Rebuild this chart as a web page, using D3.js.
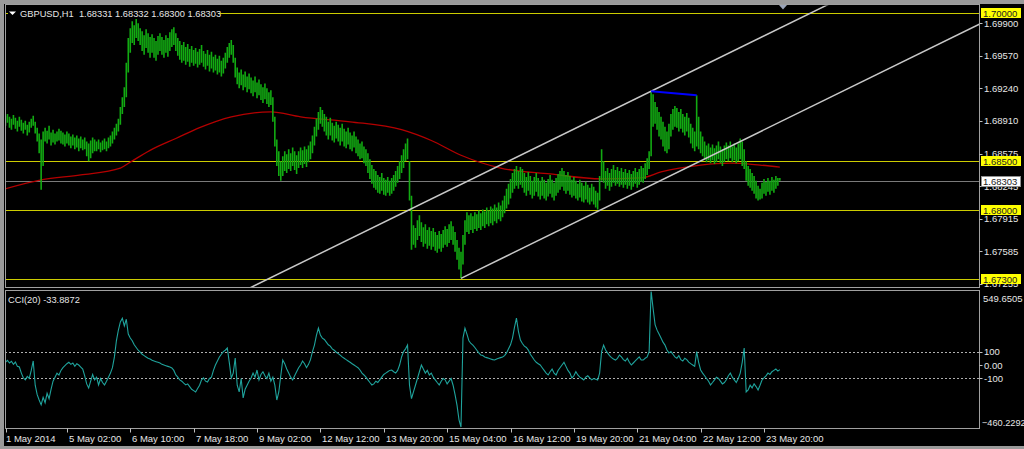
<!DOCTYPE html>
<html><head><meta charset="utf-8">
<script src="https://cdn.jsdelivr.net/npm/d3@7"></script>
<style>html,body{margin:0;padding:0;background:#000;overflow:hidden}</style>
</head><body>
<svg id="chart" width="1024" height="449"></svg>
<script>
const symbolTitle = "GBPUSD,H1  1.68331 1.68332 1.68300 1.68303";
const cciTitle = "CCI(20) -33.8872";
const timeLabels = ["1 May 2014","5 May 02:00","6 May 10:00","7 May 18:00","9 May 02:00","12 May 12:00","13 May 20:00","15 May 04:00","16 May 12:00","19 May 20:00","21 May 04:00","22 May 12:00","23 May 20:00"];
const timeLabelBars = [0,31,63,95,127,159,191,223,255,287,319,351,383];
const priceTicks = [1.69900,1.69570,1.69240,1.68910,1.68575,1.68245,1.67915,1.67585,1.67255];
const levelLines = [1.70000,1.68500,1.68000,1.67300];
const bidPrice = 1.68303;
const priceMin = 1.67222, priceMax = 1.70086;
const cciLevels = [100,-100];
const cciTicks = [100,0,-100];
const cciTickLabels = ["100","0.00","-100"];
const cciMax = 549.6505, cciMin = -460.2292;

const high = [
1.6896,1.6898,1.6895,1.6893,1.6897,1.6894,1.6891,1.6895,1.6892,1.6889,
1.6891,1.6887,1.6890,1.6893,1.6896,1.6890,1.6884,1.6878,1.6872,1.6880,
1.6884,1.6881,1.6886,1.6879,1.6882,1.6878,1.6880,1.6883,1.6881,1.6879,
1.6877,1.6880,1.6878,1.6875,1.6877,1.6874,1.6876,1.6873,1.6875,1.6872,
1.6874,1.6870,1.6868,1.6871,1.6874,1.6872,1.6870,1.6872,1.6869,1.6871,
1.6873,1.6870,1.6874,1.6876,1.6880,1.6884,1.6888,1.6893,1.6905,1.6915,
1.6925,1.6950,1.6975,1.6985,1.6992,1.6988,1.6995,1.6990,1.6985,1.6982,
1.6978,1.6984,1.6980,1.6976,1.6979,1.6975,1.6972,1.6977,1.6980,1.6976,
1.6973,1.6978,1.6975,1.6981,1.6984,1.6986,1.6980,1.6975,1.6972,1.6968,
1.6971,1.6966,1.6969,1.6964,1.6967,1.6963,1.6965,1.6961,1.6964,1.6968,
1.6962,1.6959,1.6963,1.6958,1.6961,1.6956,1.6958,1.6954,1.6957,1.6952,
1.6955,1.6960,1.6966,1.6970,1.6973,1.6968,1.6955,1.6945,1.6940,1.6943,
1.6938,1.6941,1.6936,1.6939,1.6935,1.6932,1.6936,1.6930,1.6933,1.6928,
1.6925,1.6929,1.6924,1.6920,1.6922,1.6915,1.6895,1.6872,1.6860,1.6850,
1.6855,1.6860,1.6857,1.6862,1.6858,1.6864,1.6860,1.6856,1.6860,1.6864,
1.6861,1.6865,1.6862,1.6866,1.6870,1.6876,1.6885,1.6893,1.6900,1.6905,
1.6902,1.6898,1.6895,1.6890,1.6894,1.6889,1.6886,1.6890,1.6887,1.6884,
1.6888,1.6883,1.6880,1.6884,1.6879,1.6876,1.6880,1.6875,1.6872,1.6868,
1.6870,1.6865,1.6862,1.6858,1.6852,1.6846,1.6842,1.6840,1.6836,1.6834,
1.6838,1.6833,1.6831,1.6834,1.6830,1.6833,1.6836,1.6840,1.6845,1.6850,
1.6856,1.6862,1.6868,1.6873,1.6850,1.6815,1.6785,1.6782,1.6790,1.6795,
1.6788,1.6783,1.6786,1.6780,1.6783,1.6779,1.6782,1.6778,1.6775,1.6779,
1.6776,1.6780,1.6784,1.6781,1.6786,1.6789,1.6784,1.6778,1.6770,1.6762,
1.6758,1.6775,1.6790,1.6798,1.6795,1.6797,1.6794,1.6798,1.6796,1.6800,
1.6797,1.6801,1.6799,1.6803,1.6800,1.6804,1.6802,1.6806,1.6803,1.6808,
1.6805,1.6810,1.6815,1.6822,1.6827,1.6832,1.6838,1.6842,1.6845,1.6840,
1.6844,1.6842,1.6838,1.6834,1.6839,1.6835,1.6830,1.6834,1.6838,1.6833,
1.6830,1.6834,1.6831,1.6828,1.6832,1.6836,1.6831,1.6828,1.6833,1.6837,
1.6840,1.6843,1.6840,1.6836,1.6839,1.6835,1.6831,1.6834,1.6830,1.6827,
1.6831,1.6828,1.6825,1.6829,1.6826,1.6823,1.6827,1.6824,1.6820,1.6818,
1.6835,1.6862,1.6850,1.6840,1.6843,1.6838,1.6842,1.6846,1.6841,1.6844,
1.6840,1.6843,1.6839,1.6842,1.6838,1.6841,1.6837,1.6840,1.6843,1.6839,
1.6842,1.6845,1.6843,1.6848,1.6853,1.6860,1.6921,1.6918,1.6910,1.6905,
1.6900,1.6895,1.6890,1.6885,1.6880,1.6888,1.6898,1.6903,1.6906,1.6904,
1.6900,1.6903,1.6898,1.6895,1.6899,1.6894,1.6888,1.6884,1.6880,1.6917,
1.6895,1.6880,1.6875,1.6870,1.6866,1.6868,1.6864,1.6867,1.6863,1.6866,
1.6870,1.6865,1.6862,1.6866,1.6869,1.6866,1.6870,1.6865,1.6868,1.6864,
1.6868,1.6873,1.6870,1.6862,1.6850,1.6845,1.6842,1.6838,1.6835,1.6830,
1.6825,1.6822,1.6828,1.6832,1.6829,1.6833,1.6830,1.6834,1.6831,1.6835,
1.6833,1.6833];

const low = [
1.6886,1.6889,1.6884,1.6882,1.6887,1.6883,1.6880,1.6885,1.6881,1.6878,
1.6882,1.6876,1.6879,1.6884,1.6886,1.6878,1.6870,1.6858,1.6821,1.6845,
1.6870,1.6868,1.6872,1.6866,1.6869,1.6867,1.6870,1.6871,1.6868,1.6867,
1.6865,1.6868,1.6866,1.6863,1.6866,1.6862,1.6864,1.6860,1.6863,1.6861,
1.6862,1.6855,1.6850,1.6853,1.6858,1.6860,1.6860,1.6862,1.6859,1.6861,
1.6862,1.6860,1.6863,1.6865,1.6868,1.6872,1.6876,1.6880,1.6887,1.6898,
1.6905,1.6915,1.6940,1.6960,1.6970,1.6968,1.6975,1.6972,1.6968,1.6962,
1.6958,1.6965,1.6960,1.6955,1.6960,1.6955,1.6952,1.6958,1.6962,1.6958,
1.6955,1.6960,1.6956,1.6962,1.6966,1.6968,1.6962,1.6957,1.6953,1.6950,
1.6952,1.6948,1.6951,1.6946,1.6950,1.6947,1.6949,1.6945,1.6948,1.6950,
1.6946,1.6943,1.6947,1.6941,1.6944,1.6940,1.6942,1.6938,1.6940,1.6936,
1.6939,1.6944,1.6950,1.6955,1.6958,1.6950,1.6935,1.6928,1.6924,1.6927,
1.6922,1.6925,1.6920,1.6923,1.6919,1.6916,1.6920,1.6914,1.6917,1.6912,
1.6909,1.6913,1.6908,1.6905,1.6907,1.6890,1.6865,1.6845,1.6835,1.6830,
1.6835,1.6840,1.6838,1.6842,1.6840,1.6845,1.6841,1.6837,1.6843,1.6846,
1.6843,1.6847,1.6844,1.6849,1.6852,1.6858,1.6866,1.6875,1.6882,1.6888,
1.6885,1.6880,1.6876,1.6872,1.6876,1.6871,1.6869,1.6873,1.6870,1.6866,
1.6870,1.6865,1.6863,1.6867,1.6862,1.6860,1.6864,1.6858,1.6855,1.6852,
1.6853,1.6848,1.6845,1.6838,1.6832,1.6827,1.6823,1.6821,1.6818,1.6817,
1.6820,1.6816,1.6815,1.6818,1.6815,1.6817,1.6820,1.6824,1.6828,1.6832,
1.6838,1.6843,1.6850,1.6852,1.6810,1.6760,1.6765,1.6762,1.6770,1.6774,
1.6768,1.6763,1.6766,1.6761,1.6764,1.6760,1.6763,1.6759,1.6757,1.6761,
1.6758,1.6762,1.6765,1.6763,1.6767,1.6770,1.6765,1.6758,1.6750,1.6740,
1.6731,1.6745,1.6765,1.6778,1.6776,1.6780,1.6777,1.6781,1.6779,1.6782,
1.6780,1.6784,1.6782,1.6786,1.6784,1.6787,1.6785,1.6789,1.6787,1.6791,
1.6789,1.6793,1.6797,1.6802,1.6806,1.6812,1.6818,1.6822,1.6825,1.6822,
1.6826,1.6823,1.6818,1.6815,1.6820,1.6816,1.6812,1.6815,1.6819,1.6814,
1.6811,1.6815,1.6812,1.6810,1.6814,1.6817,1.6813,1.6810,1.6815,1.6818,
1.6821,1.6824,1.6820,1.6817,1.6820,1.6816,1.6813,1.6815,1.6812,1.6810,
1.6813,1.6809,1.6808,1.6811,1.6808,1.6806,1.6809,1.6806,1.6803,1.6801,
1.6810,1.6830,1.6828,1.6822,1.6825,1.6820,1.6824,1.6828,1.6825,1.6827,
1.6824,1.6826,1.6823,1.6826,1.6822,1.6825,1.6821,1.6824,1.6827,1.6823,
1.6826,1.6829,1.6828,1.6832,1.6836,1.6842,1.6855,1.6885,1.6888,1.6882,
1.6875,1.6872,1.6865,1.6860,1.6858,1.6862,1.6875,1.6882,1.6885,1.6884,
1.6880,1.6883,1.6879,1.6876,1.6880,1.6874,1.6868,1.6863,1.6860,1.6865,
1.6862,1.6858,1.6855,1.6852,1.6849,1.6851,1.6848,1.6851,1.6847,1.6849,
1.6852,1.6848,1.6845,1.6849,1.6852,1.6850,1.6853,1.6849,1.6851,1.6848,
1.6850,1.6852,1.6845,1.6842,1.6830,1.6825,1.6823,1.6820,1.6817,1.6812,
1.6810,1.6811,1.6812,1.6817,1.6815,1.6819,1.6816,1.6820,1.6818,1.6822,
1.6825,1.6830];

const maBars = [0,18,38,58,63,73,86,98,114,134,149,174,200,215,230,250,275,301,321,331,351,366,381,391];
const maValues = [1.6822,1.6831,1.6836,1.6843,1.6849,1.6861,1.6873,1.6884,1.6895,1.6900,1.6895,1.6890,1.6882,1.6871,1.6856,1.6843,1.6837,1.6832,1.6833,1.6839,1.6846,1.6848,1.6846,1.6844];

const cci = [
20,35,15,28,5,22,-10,-15,-60,-95,
-110,-85,-100,-40,30,-150,-220,-260,-296,-240,
-280,-210,-250,-180,-120,-90,-60,-75,-40,-20,
-5,10,20,5,15,-10,10,0,-15,-30,
-80,-140,-170,-120,-70,-110,-90,-148,-100,-130,
-148,-120,-90,-60,-20,60,180,260,320,348,
290,340,230,200,180,150,130,110,96,80,
70,60,50,45,35,30,25,20,15,5,
0,-5,-10,-15,-22,-40,-74,-90,-110,-120,
-135,-148,-140,-160,-180,-190,-200,-175,-150,-110,
-96,-120,-126,-100,-90,-40,0,30,60,80,
100,110,126,20,-96,-60,52,-150,-200,-100,
-244,-180,-150,-120,-96,-60,-90,-37,-111,-70,
-50,-80,-100,-60,-120,-90,-150,-260,-200,-80,
37,10,-30,-60,-90,-111,-80,-50,-20,0,
30,10,-20,5,40,100,148,220,274,222,
200,190,170,150,140,120,110,95,85,74,
60,50,40,30,20,10,0,-10,-20,-37,
-60,-74,-90,-110,-130,-148,-140,-120,-130,-110,
-90,-70,-60,-50,-40,-37,-50,-60,-40,0,
60,100,120,148,-150,-250,-200,-150,-100,-50,
0,-30,-60,-40,-74,-60,-90,-110,-130,-148,
-120,-100,-110,-140,-120,-100,-150,-220,-300,-407,
-460.2292,200,274,230,180,160,148,130,110,90,
74,70,60,55,50,45,40,37,45,50,
55,60,70,90,120,150,200,280,348,250,
185,160,140,130,111,80,60,37,20,10,
0,-20,-40,-60,-74,-50,-30,-60,-74,-40,
-20,0,20,-10,-40,-60,-96,-80,-50,-74,
-90,-100,-111,-90,-80,-96,-110,-100,-105,-111,
-60,100,148,111,90,70,55,45,37,50,
74,60,40,30,50,20,0,15,30,45,
60,37,37,50,60,100,549.6505,420,300,259,
230,200,170,148,111,90,100,80,60,50,
70,40,30,50,40,22,10,0,-10,100,
20,-37,-60,-80,-100,-120,-148,-130,-110,-90,
-100,-120,-140,-130,-110,-80,-60,-90,-110,-130,
-100,-60,20,126,-200,-185,-150,-170,-140,-160,
-185,-150,-111,-96,-80,-60,-70,-50,-40,-30,
-45,-33.8872];

const channelLowerPts = [[230,1.6731],[301,1.6801]];
const channelUpperAnchor = [326,1.6921];
const bluePts = [[326,1.6921],[349,1.6917]];

// ---------------- drawing ----------------
const svg = d3.select("#chart");
const FONT = "'Liberation Sans', Arial, sans-serif";
const L = 5, R = 979.5, MT = 4.5, MB = 287.5, CT = 290.5, CB = 428.5;

const x = d3.scaleLinear().domain([0, 383]).range([5.5, 764]);
const y = d3.scaleLinear().domain([priceMin, priceMax]).range([287, 5]);
const yc = d3.scaleLinear().domain([cciMin, cciMax]).range([427, 291]);

svg.append("rect").attr("width",1024).attr("height",449).attr("fill","#000");
svg.append("rect").attr("x",0).attr("y",0).attr("width",1024).attr("height",4).attr("fill","#9a9a9a");
svg.append("rect").attr("x",0).attr("y",0).attr("width",4).attr("height",449).attr("fill","#9a9a9a");
svg.append("rect").attr("x",0).attr("y",446).attr("width",1024).attr("height",3).attr("fill","#9a9a9a");

const defs = svg.append("defs");
defs.append("clipPath").attr("id","cm").append("rect").attr("x",L+1).attr("y",MT+1).attr("width",R-L-1.5).attr("height",MB-MT-1.5);
defs.append("clipPath").attr("id","cc").append("rect").attr("x",L+1).attr("y",CT+1).attr("width",R-L-1.5).attr("height",CB-CT-1.5);

const gm = svg.append("g").attr("clip-path","url(#cm)");
const gc = svg.append("g").attr("clip-path","url(#cc)");

// level lines
gm.selectAll("line.lvl").data(levelLines).join("line")
  .attr("x1",L).attr("x2",R).attr("y1",d=>Math.round(y(d))+0.5).attr("y2",d=>Math.round(y(d))+0.5)
  .attr("stroke","#cccc00").attr("stroke-width",1.2);
// bid line
gm.append("line").attr("x1",L).attr("x2",R).attr("y1",Math.round(y(bidPrice))+0.5).attr("y2",Math.round(y(bidPrice))+0.5)
  .attr("stroke","#7a7a7a").attr("stroke-width",1);

// moving average
gm.append("path").datum(maBars.map((b,i)=>[b,maValues[i]]))
  .attr("d", d3.line().x(d=>x(d[0])).y(d=>y(d[1])).curve(d3.curveMonotoneX))
  .attr("fill","none").attr("stroke","#b40000").attr("stroke-width",1.3);

// price bars
gm.selectAll("line.bar").data(high.map((h,i)=>({i,h,l:low[i]}))).join("line")
  .attr("x1",d=>x(d.i)).attr("x2",d=>x(d.i))
  .attr("y1",d=>y(d.h)).attr("y2",d=>y(d.l))
  .attr("stroke","#12aa12").attr("stroke-width",1.6);

// channel lines
const slope = (channelLowerPts[1][1]-channelLowerPts[0][1])/(channelLowerPts[1][0]-channelLowerPts[0][0]);
function chan(b0,p0,from){ return [[from, p0+slope*(from-b0)],[700, p0+slope*(700-b0)]]; }
[chan(channelLowerPts[0][0],channelLowerPts[0][1],channelLowerPts[0][0]), chan(channelUpperAnchor[0],channelUpperAnchor[1],-100)].forEach(pts=>{
  gm.append("line").attr("x1",x(pts[0][0])).attr("y1",y(pts[0][1])).attr("x2",x(pts[1][0])).attr("y2",y(pts[1][1]))
    .attr("stroke","#c8c8c8").attr("stroke-width",1.5);
});
// blue line
gm.append("line").attr("x1",x(bluePts[0][0])).attr("y1",y(bluePts[0][1])).attr("x2",x(bluePts[1][0])).attr("y2",y(bluePts[1][1]))
  .attr("stroke","#0000ff").attr("stroke-width",2);

// CCI levels
gc.selectAll("line.cl").data(cciLevels).join("line")
  .attr("x1",L).attr("x2",R).attr("y1",d=>Math.round(yc(d))+0.5).attr("y2",d=>Math.round(yc(d))+0.5)
  .attr("stroke","#b0b0b0").attr("stroke-dasharray","2,2");
gc.append("path").datum(cci)
  .attr("d", d3.line().x((d,i)=>x(i)).y(d=>yc(d)))
  .attr("fill","none").attr("stroke","#1fa39c").attr("stroke-width",1.1);

// panel frames
svg.append("rect").attr("x",L+0.5).attr("y",MT).attr("width",R-L-0.5).attr("height",MB-MT).attr("fill","none").attr("stroke","#a0a0a0");
svg.append("rect").attr("x",L+0.5).attr("y",CT).attr("width",R-L-0.5).attr("height",CB-CT).attr("fill","none").attr("stroke","#a0a0a0");

// title
svg.append("rect").attr("x",8).attr("y",8).attr("width",210).attr("height",11).attr("fill","#000");
svg.append("polygon").attr("points","9,11.5 16,11.5 12.5,15").attr("fill","#fff");
svg.append("text").attr("x",20).attr("y",17).attr("fill","#e6e6e6").attr("font-family",FONT).attr("font-size",9.3).attr("xml:space","preserve").text(symbolTitle);
svg.append("text").attr("x",8).attr("y",303).attr("fill","#e6e6e6").attr("font-family",FONT).attr("font-size",9.3).text(cciTitle);

// shift marker
svg.append("polygon").attr("points","779,5 787,5 783,9.5").attr("fill","#9aa4b8");

// price axis
const axG = svg.append("g");
axG.selectAll("line.pt").data(priceTicks).join("line")
  .attr("x1",R).attr("x2",R+3).attr("y1",d=>Math.round(y(d))+0.5).attr("y2",d=>Math.round(y(d))+0.5).attr("stroke","#c0c0c0");
axG.selectAll("text.pt").data(priceTicks).join("text")
  .attr("x",984).attr("y",d=>y(d)+3.5).attr("fill","#e6e6e6").attr("font-family",FONT).attr("font-size",9.5)
  .text(d=>d3.format(".5f")(d));
levelLines.forEach(v=>{
  const yy = Math.round(y(v));
  axG.append("rect").attr("x",981).attr("y",yy-5).attr("width",40).attr("height",10).attr("fill","#ffff00");
  axG.append("text").attr("x",983).attr("y",yy+3.5).attr("fill","#222").attr("font-family",FONT).attr("font-size",9.5).text(d3.format(".5f")(v));
});
{
  const yy = Math.round(y(bidPrice));
  axG.append("rect").attr("x",981.5).attr("y",yy-4.5).attr("width",39).attr("height",10).attr("fill","#fff").attr("stroke","#909090");
  axG.append("text").attr("x",983).attr("y",yy+4).attr("fill","#222").attr("font-family",FONT).attr("font-size",9.5).text(d3.format(".5f")(bidPrice));
}

// CCI axis
axG.selectAll("line.ct").data(cciTicks).join("line")
  .attr("x1",R).attr("x2",R+3).attr("y1",d=>Math.round(yc(d))+0.5).attr("y2",d=>Math.round(yc(d))+0.5).attr("stroke","#c0c0c0");
axG.selectAll("text.ct").data(cciTicks).join("text")
  .attr("x",984).attr("y",d=>yc(d)+3.5).attr("fill","#e6e6e6").attr("font-family",FONT).attr("font-size",9.5)
  .text((d,i)=>cciTickLabels[i]);
axG.append("text").attr("x",983).attr("y",yc(cciMax)+10.5).attr("fill","#e6e6e6").attr("font-family",FONT).attr("font-size",9.5).text(d3.format(".4f")(cciMax));
axG.append("text").attr("x",982).attr("y",yc(cciMin)-1).attr("fill","#e6e6e6").attr("font-family",FONT).attr("font-size",9.2).text(d3.format(".4f")(cciMin));

// time axis
const tG = svg.append("g");
tG.selectAll("line").data(timeLabelBars).join("line")
  .attr("x1",d=>Math.round(x(d))+0.5).attr("x2",d=>Math.round(x(d))+0.5).attr("y1",CB).attr("y2",CB+4).attr("stroke","#c0c0c0");
tG.selectAll("text").data(timeLabelBars).join("text")
  .attr("x",(d,i)=> i===0 ? 6 : Math.round(x(d))+2).attr("y",442).attr("fill","#e6e6e6").attr("font-family",FONT).attr("font-size",9.5)
  .text((d,i)=>timeLabels[i]);
</script>
</body></html>
